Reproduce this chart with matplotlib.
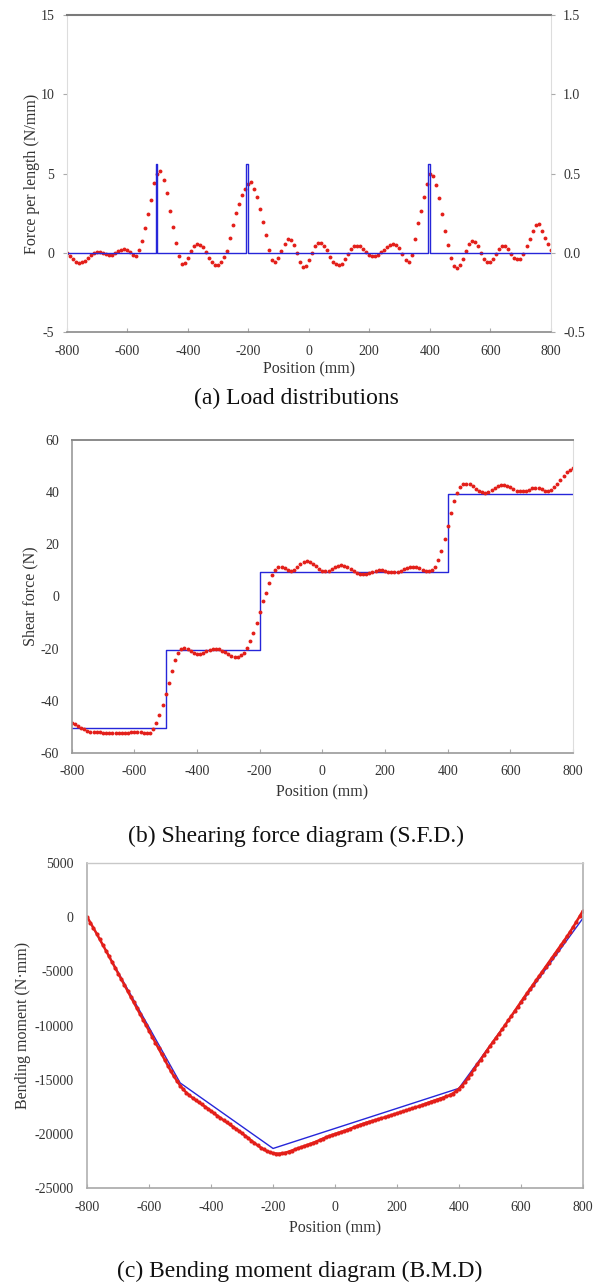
import numpy as np
import matplotlib
matplotlib.use("Agg")
import matplotlib.pyplot as plt

plt.rcParams['font.family'] = ['Liberation Serif', 'DejaVu Serif']
plt.rcParams['axes.unicode_minus'] = False

# positions along the beam where the FE result was sampled (mm)
position = np.arange(-800, 801, 10)

# FE load distribution (N/mm)
load_fem = [
    0.00, -0.20, -0.40, -0.55, -0.62, -0.60, -0.50, -0.33, -0.15, 0.00,
    0.08, 0.05, -0.03, -0.10, -0.13, -0.11, -0.03, 0.10, 0.20, 0.23,
    0.17, 0.05, -0.12, -0.18, 0.15, 0.75, 1.55, 2.45, 3.35, 4.40,
    5.00, 5.15, 4.60, 3.75, 2.65, 1.60, 0.60, -0.20, -0.70, -0.62,
    -0.30, 0.10, 0.42, 0.55, 0.52, 0.35, 0.05, -0.30, -0.60, -0.75,
    -0.74, -0.55, -0.25, 0.10, 0.95, 1.75, 2.50, 3.10, 3.65, 4.05,
    4.35, 4.45, 4.05, 3.50, 2.75, 1.95, 1.10, 0.15, -0.45, -0.58,
    -0.35, 0.10, 0.55, 0.85, 0.82, 0.50, 0.00, -0.55, -0.90, -0.85,
    -0.45, 0.00, 0.40, 0.62, 0.64, 0.45, 0.15, -0.25, -0.55, -0.72,
    -0.76, -0.68, -0.40, -0.05, 0.25, 0.42, 0.44, 0.40, 0.25, 0.05,
    -0.12, -0.18, -0.19, -0.12, 0.02, 0.20, 0.35, 0.48, 0.55, 0.52,
    0.30, -0.10, -0.48, -0.60, -0.15, 0.85, 1.85, 2.65, 3.55, 4.35,
    4.95, 4.85, 4.30, 3.45, 2.45, 1.35, 0.50, -0.30, -0.85, -0.97,
    -0.80, -0.40, 0.10, 0.55, 0.76, 0.70, 0.40, 0.00, -0.40, -0.58,
    -0.60, -0.40, -0.05, 0.25, 0.42, 0.44, 0.25, -0.05, -0.30, -0.40,
    -0.38, -0.05, 0.40, 0.85, 1.40, 1.78, 1.80, 1.40, 0.95, 0.55,
    0.20,
]

# FE shear force (N)
shear_fem = [
    -48.5, -48.8, -49.5, -50.3, -51.0, -51.6, -52.0, -52.1, -52.1, -52.1,
    -52.2, -52.3, -52.3, -52.4, -52.4, -52.5, -52.4, -52.3, -52.2, -52.0,
    -51.8, -51.8, -52.0, -52.3, -52.4, -52.2, -51.0, -48.5, -45.3, -41.5,
    -37.5, -33.0, -28.5, -24.5, -21.5, -20.2, -19.8, -20.2, -20.9, -21.6,
    -22.0, -21.9, -21.5, -21.0, -20.5, -20.2, -20.1, -20.3, -20.8, -21.4,
    -22.0, -22.7, -23.2, -23.2, -22.6, -21.5, -19.6, -17.2, -14.0, -10.0,
    -6.0, -1.8, 1.5, 5.0, 8.2, 10.3, 11.2, 11.4, 10.9, 10.1,
    9.8, 10.3, 11.2, 12.3, 13.1, 13.4, 13.3, 12.6, 11.5, 10.4,
    9.8, 9.6, 9.9, 10.6, 11.3, 11.8, 11.9, 11.8, 11.3, 10.5,
    9.6, 8.9, 8.6, 8.6, 8.7, 9.1, 9.5, 9.8, 10.0, 10.0,
    9.8, 9.5, 9.3, 9.3, 9.4, 9.8, 10.4, 11.0, 11.3, 11.4,
    11.3, 10.8, 10.2, 9.8, 9.7, 10.1, 11.2, 14.0, 17.5, 22.0,
    27.0, 32.0, 36.5, 39.8, 42.0, 43.0, 43.3, 43.0, 42.3, 41.3,
    40.4, 39.9, 39.7, 40.1, 40.9, 41.7, 42.4, 42.7, 42.8, 42.5,
    41.9, 41.2, 40.6, 40.3, 40.3, 40.6, 41.0, 41.4, 41.6, 41.5,
    41.1, 40.6, 40.4, 40.8, 41.8, 43.2, 44.8, 46.3, 47.6, 48.6,
    49.2,
]

# FE bending moment (N*mm)
moment_fem = [
    0, -496, -998, -1507, -2024, -2547, -3075, -3605, -4136, -4667,
    -5199, -5731, -6264, -6798, -7332, -7866, -8401, -8934, -9467, -9998,
    -10527, -11055, -11584, -12115, -12649, -13182, -13708, -14215, -14694, -15138,
    -15543, -15891, -16194, -16454, -16680, -16884, -17080, -17275, -17476, -17684,
    -17898, -18112, -18325, -18533, -18736, -18935, -19132, -19329, -19531, -19737,
    -19950, -20168, -20394, -20621, -20846, -21061, -21263, -21442, -21594, -21709,
    -21785, -21819, -21825, -21799, -21738, -21650, -21548, -21441, -21334, -21234,
    -21140, -21045, -20943, -20830, -20708, -20582, -20453, -20329, -20213, -20110,
    -20014, -19922, -19829, -19733, -19628, -19518, -19404, -19292, -19181, -19077,
    -18982, -18895, -18813, -18732, -18650, -18567, -18479, -18388, -18294, -18200,
    -18106, -18014, -17925, -17838, -17750, -17659, -17563, -17462, -17355, -17247,
    -17138, -17034, -16934, -16839, -16746, -16653, -16552, -16431, -16278, -16087,
    -15847, -15557, -15220, -14843, -14439, -14019, -13593, -13166, -12745, -12332,
    -11928, -11532, -11139, -10745, -10345, -9937, -9521, -9101, -8678, -8257,
    -7840, -7429, -7025, -6626, -6228, -5828, -5425, -5018, -4608, -4198,
    -3790, -3386, -2986, -2585, -2177, -1757, -1322, -872, -407, 69,
    553,
]

# theoretical (point load) solution
load_pos = [-500, -200, 400]
load_peak = 5.6
shear_x = [-800, -500, -200, 400, 800]
shear_level = [-50.3, -20.4, 9.4, 39.2]
moment_x = [-800, -500, -200, 400, 800]
moment_val = [0, -15300, -21350, -15800, -130]

x_ticks = [-800, -600, -400, -200, 0, 200, 400, 600, 800]

RED = '#e31f1a'
BLUE = '#2626d9'
TICK_COLOR = '#333333'


def style_axis(ax, spine_colors, spine_widths, xlabel_pad):
    for side in ['top', 'bottom', 'left', 'right']:
        ax.spines[side].set_color(spine_colors[side])
        ax.spines[side].set_linewidth(spine_widths[side])
    ax.set_xlim(-800, 800)
    ax.set_xticks(x_ticks)
    ax.tick_params(axis='x', direction='in', length=3, color='#aaaaaa',
                   labelsize=10, labelcolor=TICK_COLOR, pad=9)
    ax.tick_params(axis='y', direction='out', length=3, color='#aaaaaa',
                   labelsize=10, labelcolor=TICK_COLOR, pad=6)
    ax.set_xlabel('Position (mm)', fontsize=11.5, color=TICK_COLOR, labelpad=xlabel_pad)


fig = plt.figure(figsize=(6.02, 12.86), dpi=100)

# (a) load distribution
ax1 = fig.add_axes([0.1108, 0.7418, 0.8040, 0.2465])
ax1.plot(position, load_fem, 'o', color=RED, markersize=2.8, markeredgewidth=0)
bx, by = [-800], [0]
for p in load_pos:
    bx += [p - 6, p - 6, p, p]
    by += [0, load_peak, load_peak, 0]
bx.append(800)
by.append(0)
ax1.plot(bx, by, color=BLUE, linewidth=1.0)
ax1.set_ylim(-5, 15)
ax1.set_yticks([-5, 0, 5, 10, 15])
style_axis(ax1,
           {'top': '#7a7a7a', 'bottom': '#8a8a8a', 'left': '#dddddd', 'right': '#dddddd'},
           {'top': 1.5, 'bottom': 1.2, 'left': 0.8, 'right': 0.8}, 3)
ax1.set_ylabel('Force per length (N/mm)', fontsize=11.5, color=TICK_COLOR, labelpad=0)

ax1r = ax1.twinx()
ax1r.set_ylim(-0.5, 1.5)
ax1r.set_yticks([-0.5, 0.0, 0.5, 1.0, 1.5])
ax1r.set_yticklabels(['-0.5', '0.0', '0.5', '1.0', '1.5'])
for side in ['top', 'bottom', 'left', 'right']:
    ax1r.spines[side].set_visible(False)
ax1r.tick_params(axis='y', direction='out', length=3, color='#aaaaaa',
                 labelsize=10, labelcolor=TICK_COLOR, pad=6)

# (b) shear force diagram
ax2 = fig.add_axes([0.1191, 0.4145, 0.8327, 0.2434])
ax2.plot(shear_x, shear_level + [shear_level[-1]], drawstyle='steps-post',
         color=BLUE, linewidth=1.0)
ax2.plot(position, shear_fem, 'o', color=RED, markersize=2.8, markeredgewidth=0)
ax2.set_ylim(-60, 60)
ax2.set_yticks([-60, -40, -20, 0, 20, 40, 60])
style_axis(ax2,
           {'top': '#8a8a8a', 'bottom': '#9a9a9a', 'left': '#9a9a9a', 'right': '#dddddd'},
           {'top': 1.4, 'bottom': 1.2, 'left': 1.2, 'right': 0.8}, 4)
ax2.tick_params(axis='y', length=0, pad=9)
ax2.set_ylabel('Shear force (N)', fontsize=11.5, color=TICK_COLOR, labelpad=2)

# (c) bending moment diagram
ax3 = fig.add_axes([0.1450, 0.0762, 0.8229, 0.2527])
ax3.plot(moment_x, moment_val, color=BLUE, linewidth=1.0)
ax3.plot(position, moment_fem, '-o', color=RED, markersize=3.0,
         markeredgewidth=0, linewidth=1.8)
ax3.set_ylim(-25000, 5000)
ax3.set_yticks([-25000, -20000, -15000, -10000, -5000, 0, 5000])
style_axis(ax3,
           {'top': '#c8c8c8', 'bottom': '#a8a8a8', 'left': '#b0b0b0', 'right': '#b0b0b0'},
           {'top': 1.0, 'bottom': 1.2, 'left': 1.2, 'right': 1.2}, 5)
ax3.tick_params(axis='y', length=0, pad=10)
ax3.set_ylabel('Bending moment (N\u00b7mm)', fontsize=11.5, color=TICK_COLOR, labelpad=2)

# captions under each panel
fig.text(296 / 602, 1 - 398 / 1286, '(a) Load distributions', fontsize=17,
         ha='center', va='center', color='#111111')
fig.text(296 / 602, 1 - 836 / 1286, '(b) Shearing force diagram (S.F.D.)', fontsize=17,
         ha='center', va='center', color='#111111')
fig.text(300 / 602, 1 - 1271 / 1286, '(c) Bending moment diagram (B.M.D)', fontsize=17,
         ha='center', va='center', color='#111111')

fig.savefig('out.png', dpi=100)
